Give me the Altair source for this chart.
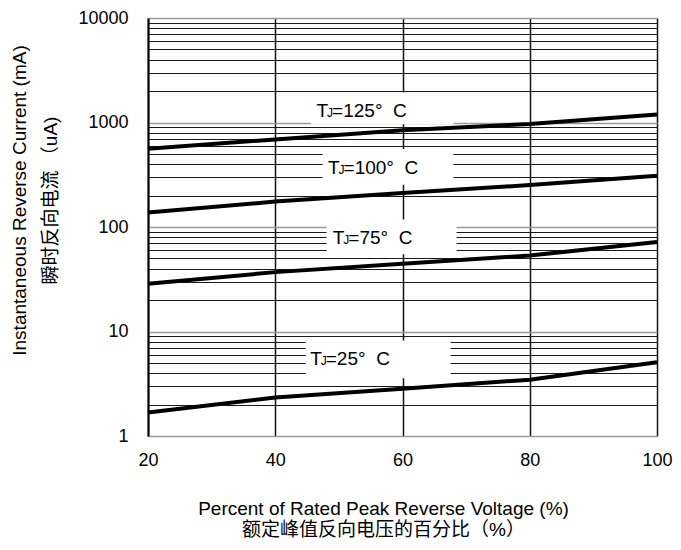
import altair as alt
import pandas as pd

# ---- data ----
pct = [20, 40, 60, 80, 100]
tj25 = [1.68, 2.33, 2.83, 3.46, 5.08]
tj75 = [28.6, 37.0, 44.5, 53.3, 71.7]
tj100 = [138, 175, 211, 252, 309]
tj125 = [561, 689, 844, 969, 1190]

temps = ["25", "75", "100", "125"]
label_pct = [45.5, 49.05, 48.3, 46.5]
label_val = [4.73, 69.2, 324, 1122]
box_x1 = [44.8, 48.07, 47.45, 45.6]
box_x2 = [67.56, 68.5, 68.0, 68.0]
box_top = [8.2, 118, 557, 1939]
box_bottom = [3.56, 54.8, 253, 962]

x_ticks = [20, 40, 60, 80, 100]
y_grid = [1, 2, 3, 4, 5, 6, 7, 8, 9,
          10, 20, 30, 40, 50, 60, 70, 80, 90,
          100, 200, 300, 400, 500, 600, 700, 800, 900,
          1000, 2000, 3000, 4000, 5000, 6000, 7000, 8000, 9000,
          10000]

NB = "\u00a0"
x_title = ["Percent of Rated Peak Reverse Voltage (%)", "额定峰值反向电压的百分比（%）"]
y_title = ["Instantaneous Reverse Current (mA)" + NB * 4, NB * 3 + "瞬时反向电流 （uA)"]

# ---- tables ----
rows = []
for name, vals in [("25", tj25), ("75", tj75), ("100", tj100), ("125", tj125)]:
    for p, v in zip(pct, vals):
        rows.append({"pct": p, "cur": v, "tj": name})
curves = pd.DataFrame(rows)

labels = pd.DataFrame({
    "lp": label_pct, "lv": label_val,
    "rest": ["=" + t + "°" + NB + NB + "C" for t in temps],
    "bx1": box_x1, "bx2": box_x2, "bt": box_top, "bb": box_bottom,
})

LAT = "Liberation Sans, Arial, Helvetica, sans-serif"
MIX = "Liberation Sans, Noto Sans CJK SC, sans-serif"

xscale = alt.Scale(domain=[20, 100], nice=False, zero=False)
yscale = alt.Scale(type="log", domain=[1, 10000], nice=False)

major_test = "indexof([1,10,100,1000,10000], datum.value) >= 0"

x_axis = alt.Axis(
    values=x_ticks, ticks=False, domain=False, grid=True,
    gridColor="#111111", gridWidth=1.5, gridOpacity=1,
    labelFont=LAT, labelFontSize=18, labelColor="black", labelPadding=15,
    labelFlush=False, labelOverlap=False,
    title=x_title, titleFont=MIX, titleFontSize=19, titleFontWeight="normal",
    titleColor="black", titleX=235, titleY=78, titleAlign="center",
    titleBaseline="alphabetic", titleLineHeight=21,
)

y_axis = alt.Axis(
    values=y_grid, ticks=False, domain=True, domainColor="black", domainWidth=2,
    grid=True,
    gridColor={"condition": {"test": major_test, "value": "#9a9a9a"}, "value": "#1a1a1a"},
    gridWidth={"condition": {"test": major_test, "value": 1.6}, "value": 1.1},
    gridOpacity=1,
    labelExpr=major_test + " ? format(datum.value, 'd') : ''",
    labelFont=LAT, labelFontSize=18, labelColor="black", labelPadding=20,
    labelOverlap=False, labelFlush=False,
    title=y_title, titleFont=MIX, titleFontSize=19, titleFontWeight="normal",
    titleColor="black", titleAngle=270, titleX=-129, titleY=182,
    titleAlign="center", titleBaseline="middle", titleLineHeight=31,
)

lines = alt.Chart(curves).mark_line(color="black", strokeWidth=4, strokeCap="butt").encode(
    x=alt.X("pct:Q", scale=xscale, axis=x_axis),
    y=alt.Y("cur:Q", scale=yscale, axis=y_axis),
    detail="tj:N",
)

boxes = alt.Chart(labels).mark_rect(color="white", opacity=1).encode(
    x=alt.X("bx1:Q", scale=xscale, axis=x_axis), x2="bx2:Q",
    y=alt.Y("bt:Q", scale=yscale, axis=y_axis), y2="bb:Q",
)

base_txt = alt.Chart(labels).encode(
    x=alt.X("lp:Q", scale=xscale, axis=x_axis),
    y=alt.Y("lv:Q", scale=yscale, axis=y_axis),
)
t_T = base_txt.mark_text(text="T", font=LAT, fontSize=19, align="left",
                         baseline="alphabetic", color="black")
t_J = base_txt.mark_text(text="J", font=LAT, fontSize=12, align="left",
                         baseline="alphabetic", color="black", dx=10.5)
t_rest = base_txt.mark_text(font=LAT, fontSize=19, align="left",
                            baseline="alphabetic", color="black", dx=15.5).encode(text="rest:N")

chart = alt.layer(boxes, t_T, t_J, t_rest, lines).properties(
    width=509, height=418,
    background="white",
    autosize=alt.AutoSizeParams(type="none"),
    padding={"left": 140, "top": 10, "right": 16, "bottom": 106},
).configure_view(stroke=None)

chart.save("out.html", embed_options={"renderer": "svg", "actions": False})
